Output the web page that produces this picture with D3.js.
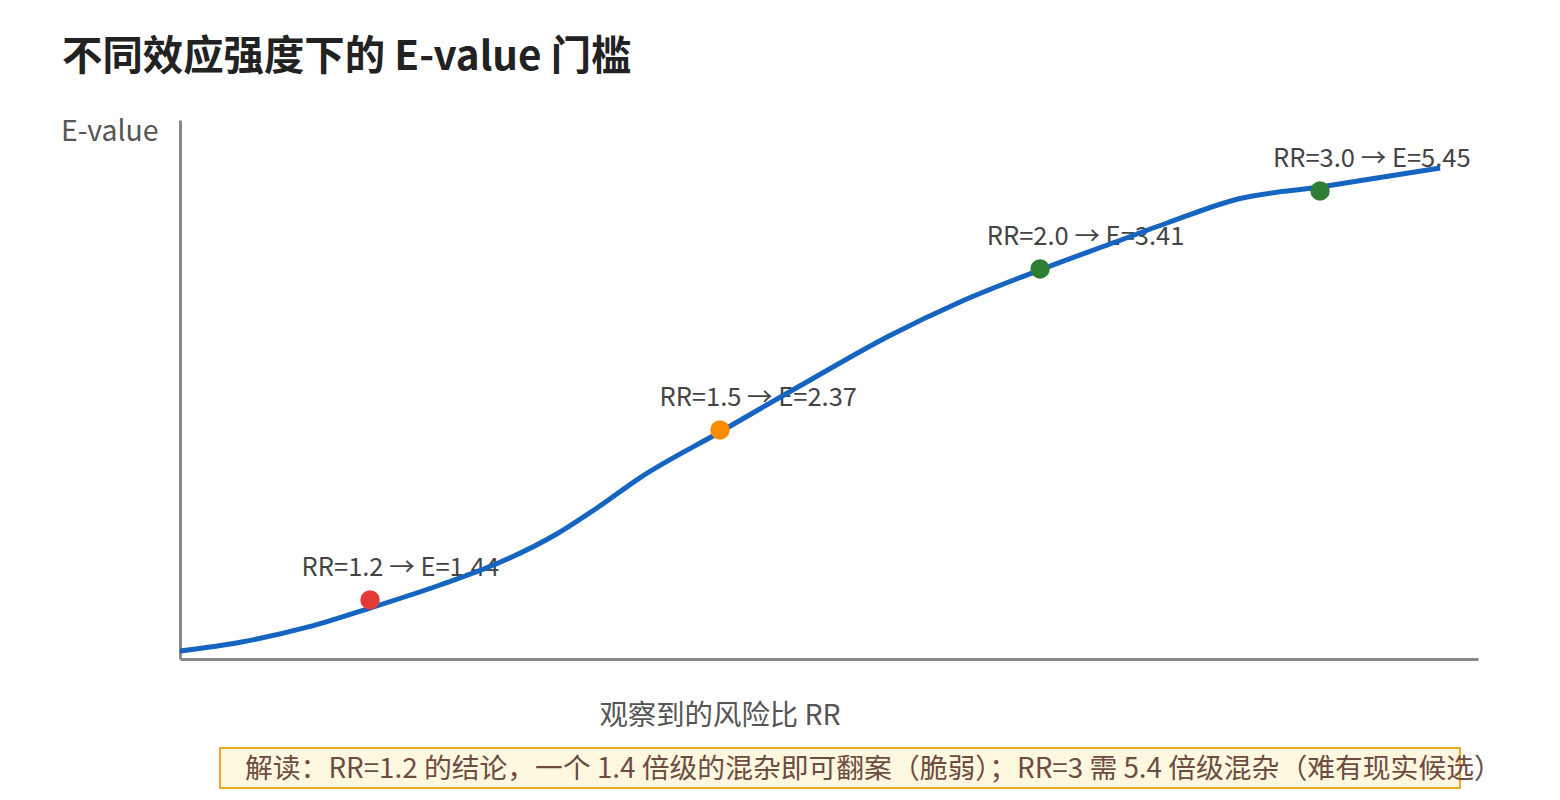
<!DOCTYPE html>
<html>
<head>
<meta charset="utf-8">
<script src="https://cdn.jsdelivr.net/npm/d3@7/dist/d3.min.js"></script>
<style>
  html, body { margin: 0; padding: 0; background: #fff; }
  svg { display: block; }
  text { font-family: "Noto Sans CJK SC", "Noto Sans", sans-serif; }
</style>
</head>
<body>
<svg id="chart" width="1560" height="800"></svg>
<script>
// ---------- data ----------
const titleText = "不同效应强度下的 E-value 门槛";
const yAxisLabel = "E-value";
const xAxisLabel = "观察到的风险比 RR";
const noteText = "解读：RR=1.2 的结论，一个 1.4 倍级的混杂即可翻案（脆弱）；RR=3 需 5.4 倍级混杂（难有现实候选）";

// curve samples (RR, E-value)
const curveRR = [1.0, 1.065, 1.135, 1.2, 1.26, 1.31, 1.36, 1.397, 1.431, 1.5, 1.641, 1.764, 1.875, 2.0, 2.25, 2.454, 2.707, 3.0, 3.38];
const curveE  = [1.06, 1.127, 1.239, 1.38, 1.522, 1.642, 1.801, 1.954, 2.107, 2.359, 2.693, 2.977, 3.197, 3.404, 4.064, 4.613, 5.241, 5.554, 6.049];

// highlighted points
const pointRR = [1.2, 1.5, 2.0, 3.0];
const pointE  = [1.44, 2.37, 3.41, 5.45];
const pointColors = ["#e53935", "#fb8c00", "#2e7d32", "#2e7d32"];

// ---------- layout ----------
const svg = d3.select("#chart");
const plot = { left: 180, right: 1478, top: 120, bottom: 659 };
const W = plot.right - plot.left, H = plot.bottom - plot.top;

// non-uniform (polylinear) scales matching the reference's hand-spaced axis
const xKnots = [1.0, 1.2, 1.5, 2.0, 3.0, 3.5];
const xFrac  = [0, 0.1464, 0.4160, 0.6626, 0.8783, 1];
const yKnots = [1.0, 1.44, 2.37, 3.41, 5.45, 7.3];
const yFrac  = [0, 0.1095, 0.4249, 0.7236, 0.8683, 1];

const x = d3.scaleLinear().domain(xKnots).range(xFrac.map(f => plot.left + f * W));
const y = d3.scaleLinear().domain(yKnots).range(yFrac.map(f => plot.bottom - f * H));

// title
svg.append("text")
  .attr("x", 62).attr("y", 70)
  .attr("font-size", 40.4).attr("font-weight", 700)
  .attr("fill", "#222")
  .text(titleText);

// axes (plain lines, no ticks)
const xAxis = d3.axisBottom(x).tickValues([]).tickSizeOuter(0);
const yAxis = d3.axisLeft(y).tickValues([]).tickSizeOuter(0);
const gx = svg.append("g").attr("transform", `translate(0,${plot.bottom})`).call(xAxis);
const gy = svg.append("g").attr("transform", `translate(${plot.left},0)`).call(yAxis);
[gx, gy].forEach(g => g.select(".domain").attr("stroke", "#888").attr("stroke-width", 3));

// axis labels
svg.append("text")
  .attr("x", 61).attr("y", 141)
  .attr("font-size", 28.4).attr("fill", "#555")
  .text(yAxisLabel);
svg.append("text")
  .attr("x", 720).attr("y", 725)
  .attr("text-anchor", "middle")
  .attr("font-size", 28.4).attr("fill", "#555")
  .text(xAxisLabel);

// point labels (drawn beneath the curve, as in the reference)
const points = pointRR.map((rr, i) => ({ rr, e: pointE[i], color: pointColors[i] }));
svg.append("g").selectAll("text").data(points).join("text")
  .attr("x", d => x(d.rr) * 1.0226 + 22)
  .attr("y", d => y(d.e) - 23.5)
  .attr("text-anchor", "middle")
  .attr("font-size", 25.5).attr("fill", "#444")
  .text(d => `RR=${d.rr.toFixed(1)} → E=${d.e.toFixed(2)}`);

// curve
const curve = curveRR.map((rr, i) => [rr, curveE[i]]);
svg.append("path")
  .datum(curve)
  .attr("fill", "none")
  .attr("stroke", "#1565c0")
  .attr("stroke-width", 5)
  .attr("stroke-linecap", "butt")
  .attr("d", d3.line().x(d => x(d[0])).y(d => y(d[1])).curve(d3.curveMonotoneX));

// points
svg.append("g").selectAll("circle").data(points).join("circle")
  .attr("cx", d => x(d.rr))
  .attr("cy", d => y(d.e))
  .attr("r", 9.7)
  .attr("fill", d => d.color);

// annotation box
const note = svg.append("g");
note.append("rect")
  .attr("x", 220).attr("y", 748)
  .attr("width", 1240).attr("height", 40)
  .attr("fill", "#fff8e1")
  .attr("stroke", "#f5a623").attr("stroke-width", 2);
note.append("text")
  .attr("x", 245).attr("y", 778)
  .attr("font-size", 27.8).attr("fill", "#6d4c41")
  .text(noteText);
</script>
</body>
</html>
